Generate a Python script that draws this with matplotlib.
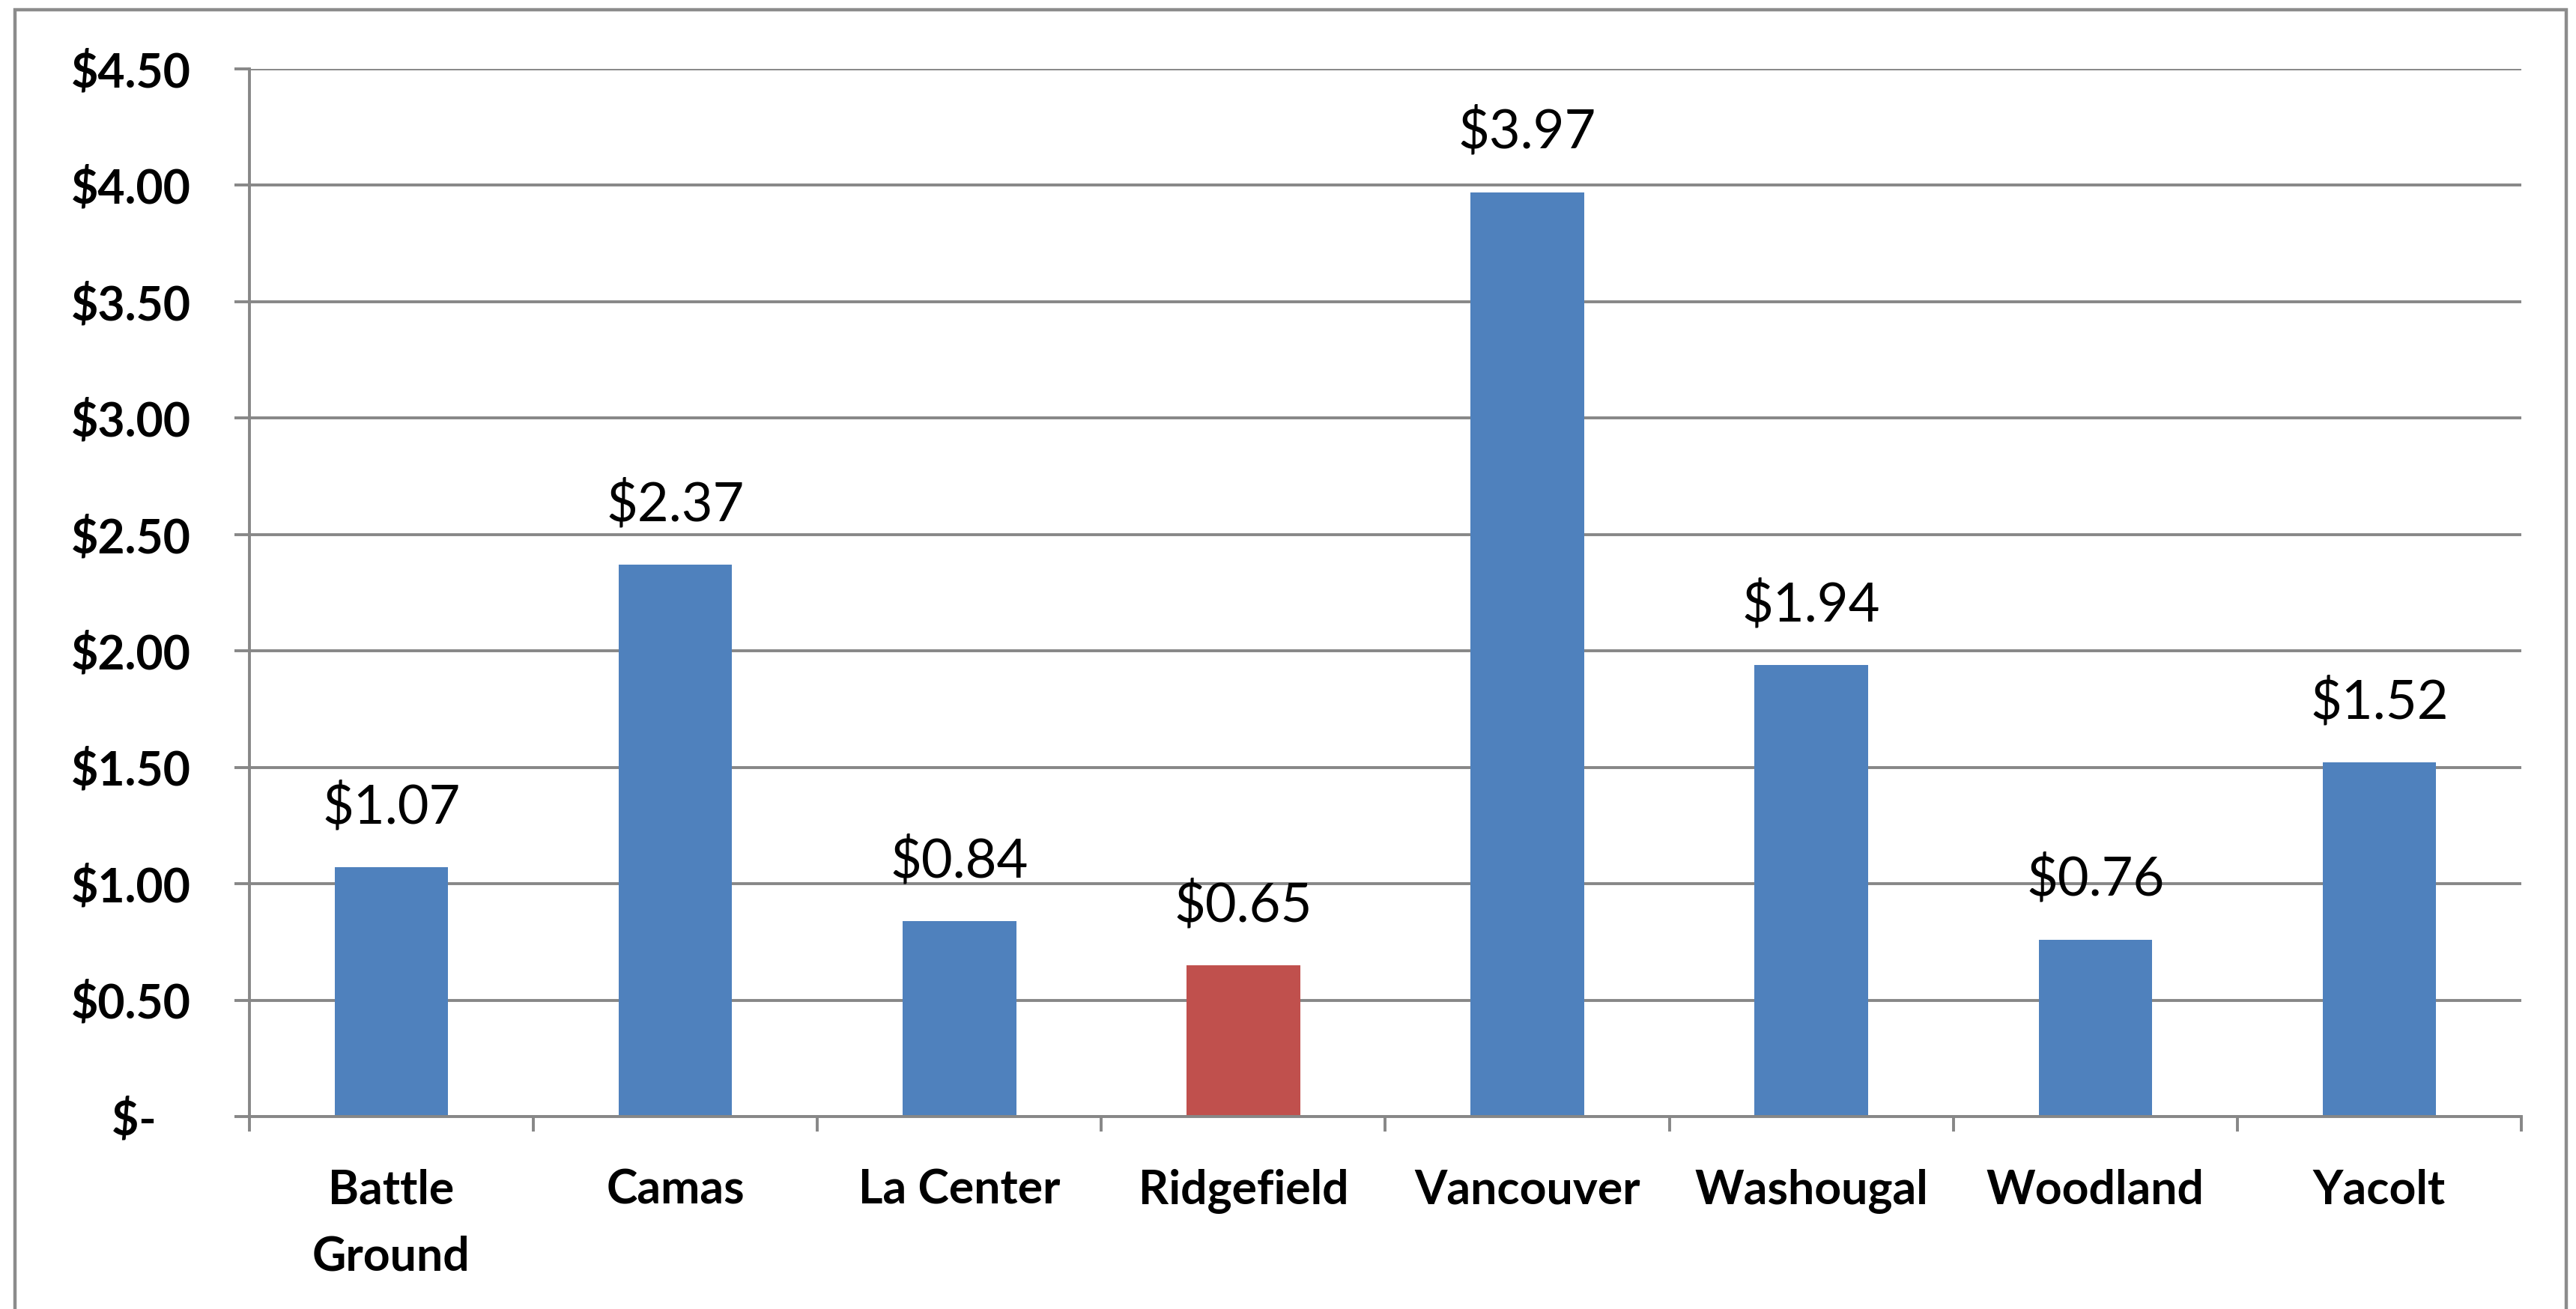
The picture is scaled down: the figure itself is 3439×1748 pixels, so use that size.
import numpy as np
import matplotlib
matplotlib.use("Agg")
import matplotlib.pyplot as plt
from matplotlib import rcParams
from matplotlib.patches import Rectangle

rcParams["font.family"] = ["Lato", "DejaVu Sans"]

cities = ["Battle\nGround", "Camas", "La Center", "Ridgefield",
          "Vancouver", "Washougal", "Woodland", "Yacolt"]
values = [1.07, 2.37, 0.84, 0.65, 3.97, 1.94, 0.76, 1.52]
highlight = "Ridgefield"
yticks = [0, 0.5, 1.0, 1.5, 2.0, 2.5, 3.0, 3.5, 4.0, 4.5]

blue = "#4F81BD"
red = "#C0504D"
grey = "#878787"

fig = plt.figure(figsize=(17.195, 8.74), dpi=200)
ax = fig.add_axes([0.0968, 0.147, 0.882, 0.8004])

x = np.arange(len(cities))
colors = [red if c == highlight else blue for c in cities]
ax.bar(x, values, width=0.40, color=colors, zorder=3)

for xi, v in zip(x, values):
    ax.annotate("${:.2f}".format(v), (xi, v), xytext=(0, 29),
                textcoords="offset points", ha="center", va="center",
                fontsize=26, color="black")

ax.set_xlim(-0.5, len(cities) - 0.5)
ax.set_ylim(0, 4.5)

# y axis with accounting-style labels
ax.set_yticks(yticks)
ax.set_yticklabels(["$-   " if t == 0 else "${:.2f}".format(t) for t in yticks],
                   fontsize=22.5, fontweight="bold")
ax.yaxis.grid(True, color=grey, linewidth=1.4, zorder=0)

# category labels centred, ticks on the boundaries
ax.set_xticks(x)
ax.set_xticklabels(cities, fontsize=22.5, fontweight="bold", linespacing=1.65)
ax.set_xticks(np.arange(-0.5, len(cities)), minor=True)
ax.tick_params(axis="x", which="major", length=0, pad=25)
ax.tick_params(axis="x", which="minor", length=7.2, width=1.4, color=grey)
ax.tick_params(axis="y", length=7.2, width=1.4, color=grey, pad=21)

for s in ["top", "right"]:
    ax.spines[s].set_visible(False)
for s in ["left", "bottom"]:
    ax.spines[s].set_color(grey)
    ax.spines[s].set_linewidth(1.4)
    ax.spines[s].set_zorder(4)

# outer chart border
fig.patches.append(Rectangle((0.0058, -0.05), 0.9905, 1.0426,
                             transform=fig.transFigure, fill=False,
                             edgecolor="#8C8C8C", linewidth=1.6))

fig.savefig("out.png", dpi=200, facecolor="white")
